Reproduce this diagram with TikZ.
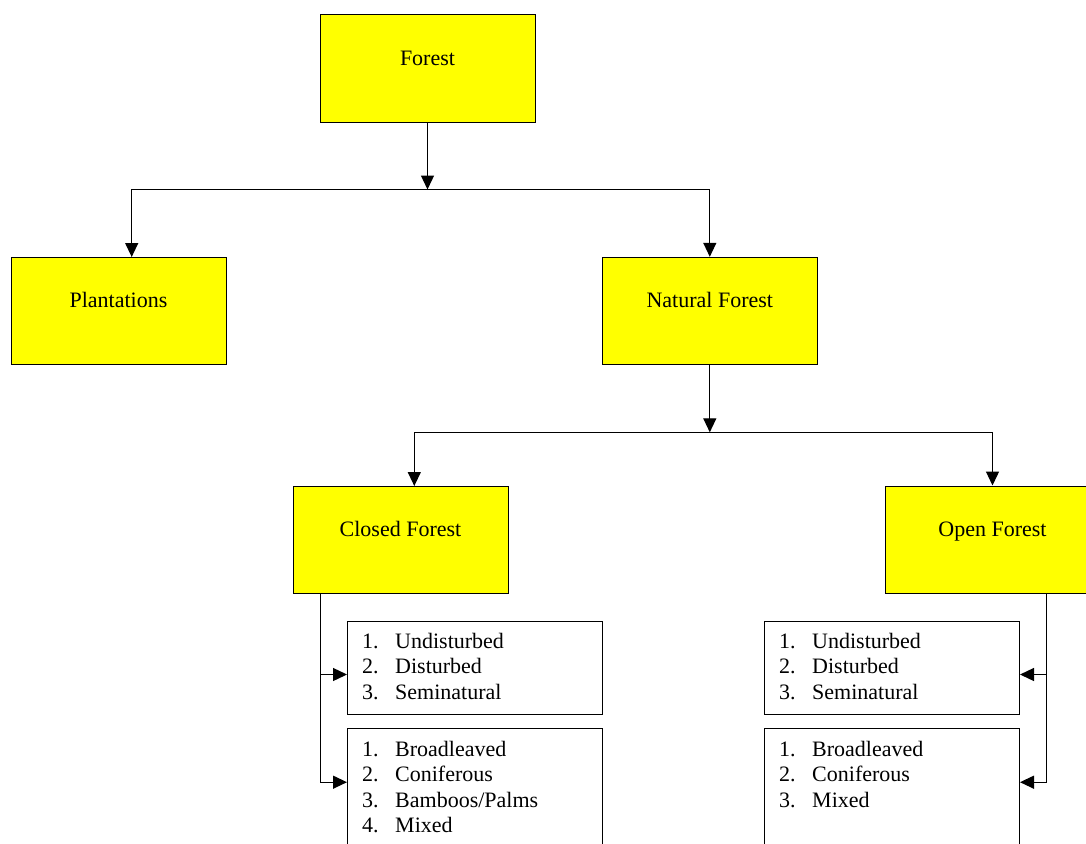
\documentclass[tikz,border=0pt]{standalone}
\usepackage{fontspec}
\setmainfont{Liberation Serif}
\usetikzlibrary{arrows.meta}
\definecolor{boxyellow}{RGB}{255,255,0}
\definecolor{ink}{RGB}{0,0,0}
\begin{document}
\begin{tikzpicture}[x=1pt,y=-1pt,
  ybox/.style={draw=ink, fill=boxyellow, line width=1pt, minimum width=215pt, minimum height=107pt,
    inner sep=0pt, text height=15pt, text depth=21pt, font=\fontsize{22}{26}\selectfont},
  lbox/.style={draw=ink, line width=1pt, minimum width=255pt, inner sep=0pt, anchor=north west},
  ltext/.style={anchor=north west, inner sep=0pt, font=\fontsize{22}{25.5}\selectfont},
  conn/.style={line width=1.3pt, draw=ink},
  arr/.style={conn, -{Triangle[length=14pt,width=13pt]}}]
\clip (0,0) rectangle (1086,843);
\fill[white] (0,0) rectangle (1086,843);

% yellow boxes
\node[ybox] (forest) at (427.5,68.5) {Forest};
\node[ybox] (plant)  at (118.5,310.5) {Plantations};
\node[ybox] (nat)    at (709.8,310.8) {Natural Forest};
\node[ybox] (closed) at (400.5,539.5) {Closed Forest};
\node[ybox] (open)   at (992.5,539.5) {Open Forest};

% list boxes
\node[lbox, minimum height=93pt]  (c1) at (347,621) {};
\node[lbox, minimum height=140pt] (c2) at (347,728) {};
\node[lbox, minimum height=93pt]  (o1) at (764,621) {};
\node[lbox, minimum height=140pt] (o2) at (764,728) {};

\newcommand\listrows[1]{\begin{tabular}{@{}p{33pt}@{}l@{}}#1\end{tabular}}
\node[ltext] (c1t) at ([shift={(15,9)}]c1.north west) {\listrows{1. & Undisturbed\\ 2. & Disturbed\\ 3. & Seminatural}};
\node[ltext] (c2t) at ([shift={(15,10)}]c2.north west) {\listrows{1. & Broadleaved\\ 2. & Coniferous\\ 3. & Bamboos/Palms\\ 4. & Mixed}};
\node[ltext] (o1t) at ([shift={(15,9)}]o1.north west) {\listrows{1. & Undisturbed\\ 2. & Disturbed\\ 3. & Seminatural}};
\node[ltext] (o2t) at ([shift={(15,10)}]o2.north west) {\listrows{1. & Broadleaved\\ 2. & Coniferous\\ 3. & Mixed}};

% junctions
\coordinate (j1) at (427.5,189.5);
\coordinate (j2) at (709.8,432.3);
\coordinate (pin) at (131.7,257);
\coordinate (cin) at (414.3,486);
\coordinate (cs) at (320.3,593);
\coordinate (os) at (1046.3,593);

\draw[arr] (forest) -- (j1);
\draw[arr] (j1) -| (pin);
\draw[arr] (j1) -| (nat.north);
\draw[arr] (nat) -- (j2);
\draw[arr] (j2) -| (cin);
\draw[arr] (j2) -| (open.north);

\draw[arr] ([yshift=-6.5pt]cs |- c1.west) -- ([yshift=-6.5pt]c1.west);
\draw[arr] (cs) |- ([yshift=16.3pt]c2.west);
\draw[arr] ([yshift=-6.5pt]os |- o1.east) -- ([yshift=-6.5pt]o1.east);
\draw[arr] (os) |- ([yshift=16.3pt]o2.east);
\end{tikzpicture}
\end{document}
